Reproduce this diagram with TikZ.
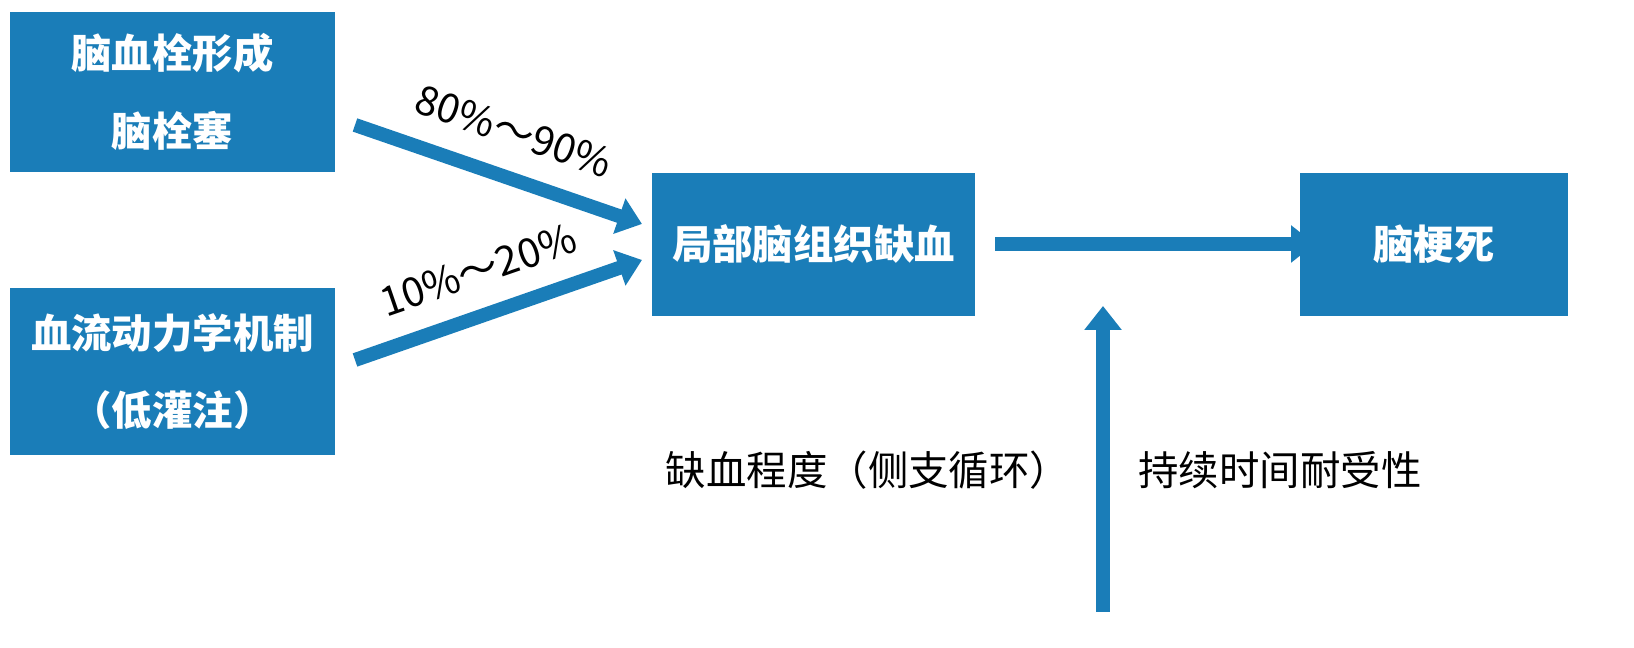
\documentclass[tikz,border=0pt]{standalone}
\usepackage{fontspec}
\setmainfont{Noto Sans CJK SC}
\usetikzlibrary{arrows.meta, positioning}
\definecolor{boxblue}{HTML}{1A7DB8}
\tikzset{
  box/.style = {fill=boxblue, text=white, font=\bfseries\fontsize{11.5}{22}\selectfont,
    align=center, inner sep=0pt},
  fat/.style = {draw=boxblue, line width=0.14cm, -{Triangle[length=0.24cm, width=0.36cm]}},
  lbl/.style = {font=\fontsize{11.5}{14}\selectfont}
}
\begin{document}
\begin{tikzpicture}
  \useasboundingbox (0,0) rectangle (16.34,6.48);

  % boxes
  \node[box, minimum width=3.25cm, minimum height=1.6cm] (thromb) at (1.725,5.56) {脑血栓形成\\脑栓塞};
  \node[box, minimum width=3.25cm, minimum height=1.67cm] (hemo) at (1.725,2.765) {血流动力学机制\\（低灌注）};
  \node[box, minimum width=3.23cm, minimum height=1.43cm] (isch) at (8.135,4.035) {局部脑组织缺血};
  \node[box, minimum width=2.68cm, minimum height=1.43cm] (infarct) at (14.34,4.035) {脑梗死};

  % arrows
  \coordinate (a1s) at (3.55,5.23);
  \coordinate (a1e) at (6.42,4.24);
  \coordinate (a2s) at (3.55,2.88);
  \coordinate (a2e) at (6.42,3.88);
  \coordinate (a3s) at (9.95,4.04);
  \coordinate (a3e) at (13.15,4.04);
  \coordinate (a4s) at (11.03,0.36);
  \coordinate (a4e) at (11.03,3.42);
  \draw[fat] (a1s) -- (a1e);
  \draw[fat] (a2s) -- (a2e);
  \draw[fat] (a3s) -- (a3e);
  \draw[fat] (a4s) -- (a4e);

  % labels
  \node[lbl, rotate=-19] (p1) at (5.14,5.17) {80\%～90\%};
  \node[lbl, rotate=19] (p2) at (4.78,3.78) {10\%～20\%};
  \node[lbl] (degree) at (8.68,1.78) {缺血程度（侧支循环）};
  \node[lbl] (dur) at (12.8,1.78) {持续时间耐受性};

\end{tikzpicture}
\end{document}
